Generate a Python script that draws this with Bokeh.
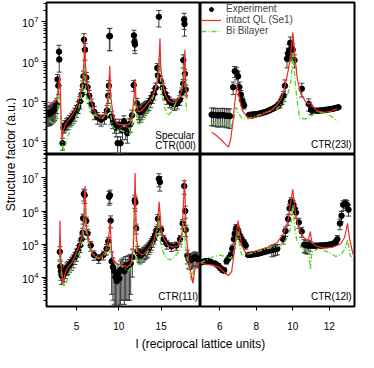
import math
import numpy as np
from bokeh.plotting import figure
from bokeh.models import (ColumnDataSource, Whisker, TeeHead, Range1d, Label, Legend,
                          LegendItem, FixedTicker, Spacer)
from bokeh.layouts import row, column
from bokeh.embed import file_html
from bokeh.resources import INLINE

FONT = "Liberation Sans"
RED = "#ee2c2c"
GREEN = "#5ad82e"
EBAR = "#3c3c3c"

# ---------------- axis ranges / ticks ----------------
left_xlim = (1.45, 19.65)
right_xlim = (4.94, 13.38)
top_ylim = (10 ** 3.67, 10 ** 7.49)
bot_ylim = (10 ** 3.11, 10 ** 7.71)
left_xticks = [5, 10, 15]
right_xticks = [6, 8, 10, 12]

# ---------------- Specular CTR(00l) ----------------
tl_ql_l = [1.6, 2.0, 2.4, 2.7, 2.9, 3.0, 3.1, 3.2, 3.3, 3.45, 3.7, 4.1, 4.5, 4.9, 5.2, 5.5, 5.75, 5.88, 5.95, 6.05,
           6.3, 6.6, 7.0, 7.4, 7.9, 8.3, 8.6, 8.8, 8.92, 9.05, 9.3, 9.5, 9.8, 10.2, 10.6, 11.0, 11.3, 11.6, 11.8, 11.92,
           12.05, 12.3, 12.6, 13.0, 13.5, 14.0, 14.4, 14.65, 14.78, 14.86, 14.95, 15.1, 15.3, 15.6, 16.0, 16.4, 16.8,
           17.2, 17.5, 17.7, 17.8, 17.9, 18.05]
tl_ql_F = [9.5e4, 9.3e4, 9.5e4, 1.3e5, 2.5e5, 4.8e5, 1.5e5, 2.5e4, 1.1e4, 1.9e4, 2.8e4, 3.5e4, 4.6e4, 6.5e4, 1.0e5,
           1.8e5, 3.5e5, 1.2e6, 4.2e6, 8e5, 2.8e5, 1.35e5, 6.6e4, 4.5e4, 3.8e4, 4.2e4, 8e4, 2e5, 7.8e5, 1.3e5, 5e4,
           3.5e4, 2.8e4, 2.6e4, 2.6e4, 2.6e4, 2.8e4, 5e4, 1.4e5, 3.7e5, 9e4, 5.5e4, 5.8e4, 7e4, 9.5e4, 1.4e5, 2.3e5,
           4.5e5, 1.5e6, 3.9e6, 8e5, 3.5e5, 2.1e5, 1.3e5, 1.0e5, 9.5e4, 1.0e5, 1.3e5, 2.2e5, 5e5, 2.0e6, 3e5, 1.2e5]
tl_bi_l = [1.8, 2.3, 2.7, 2.9, 3.0, 3.1, 3.25, 3.45, 3.7, 4.0, 4.4, 4.8, 5.2, 5.5, 5.8, 5.93, 6.08, 6.3, 6.7, 7.1,
           7.6, 8.1, 8.5, 8.8, 8.93, 9.08, 9.3, 9.7, 10.2, 10.8, 11.3, 11.6, 11.82, 11.92, 12.05, 12.3, 12.7, 13.2,
           13.7, 14.2, 14.55, 14.78, 14.92, 15.1, 15.4, 15.8, 16.2, 16.7, 17.2, 17.5, 17.72, 17.85, 18.0]
tl_bi_F = [3.3e4, 2.8e4, 4e4, 1.2e5, 2.3e5, 6e4, 1.2e4, 6e3, 8e3, 1.4e4, 2.2e4, 3.5e4, 6e4, 1.1e5, 3e5, 1.3e6, 2e5,
           9e4, 6e4, 4.8e4, 4e4, 3.8e4, 5.5e4, 1.4e5, 4e5, 4e4, 2.2e4, 2e4, 1.9e4, 1.7e4, 1.5e4, 3e4, 1.2e5, 2e5, 5e4,
           2.7e4, 3e4, 5e4, 8e4, 1.6e5, 3.5e5, 1.2e6, 4e5, 1.5e5, 7e4, 4.5e4, 5.5e4, 9e4, 1.4e5, 2.5e5, 8e5, 2e5, 6e4]
tl_exp_l = [1.55, 1.65, 1.75, 1.85, 1.95, 2.05, 2.15, 2.25, 2.35, 2.45, 2.55, 2.65,
            2.75, 2.85, 2.93, 2.96,
            3.35, 3.45, 3.6, 3.8, 4.0, 4.2, 4.4, 4.6, 4.8, 5.0, 5.2, 5.4, 5.6, 5.75, 5.82,
            5.88, 6.0,
            6.15, 6.3, 6.5, 6.8, 7.1, 7.5, 7.9, 8.3, 8.6, 8.75, 8.82,
            8.88, 8.95,
            9.12, 9.3, 9.49, 9.68, 9.86, 10.05, 10.2, 10.43, 10.6, 10.8, 11.0, 11.2, 11.36, 11.55,
            11.75, 11.78, 11.85, 11.9,
            12.15, 12.3, 12.45, 12.6, 12.75, 12.9, 13.05, 13.2, 13.35, 13.55, 13.75, 13.95, 14.15, 14.35, 14.55, 14.62,
            14.73,
            14.95, 15.2, 15.45, 15.7, 16.0, 16.3, 16.6, 16.9, 17.2, 17.45, 17.6,
            17.62, 17.72, 17.76, 17.8, 17.9]
tl_exp_F = [5.0e4, 4.8e4, 5.2e4, 5.0e4, 5.4e4, 5.3e4, 5.7e4, 6.0e4, 6.2e4, 6.6e4, 7.2e4, 8.5e4,
            3.6e5, 2.5e5, 1.8e6, 1.15e6,
            9e3, 2.2e4, 2.5e4, 2.8e4, 3.0e4, 3.4e4, 3.8e4, 4.3e4, 5.0e4, 6.0e4, 7.5e4, 1.0e5, 1.5e5, 2.5e5, 4.3e5,
            3.6e6, 2.0e6,
            4e5, 2.3e5, 1.4e5, 8.5e4, 5.5e4, 4e4, 3.5e4, 4e4, 6e4, 1.4e5, 2.5e5,
            4.4e6, 4.4e6,
            4.2e4, 3.3e4, 2.6e4, 2.2e4, 9e3, 2.6e4, 9e3, 1.9e4, 3.2e4, 1.9e4, 1.6e4, 2.7e4, 2.7e4, 4.5e4,
            2.6e5, 4.6e6, 3.2e6, 2.7e6,
            9e4, 6e4, 5.5e4, 5.5e4, 6e4, 6.5e4, 7e4, 7.5e4, 8e4, 9e4, 1.05e5, 1.3e5, 1.6e5, 2.2e5, 7e5, 4.5e5,
            1.35e7,
            3.3e5, 2.2e5, 1.6e5, 1.25e5, 1.0e5, 9e4, 8.5e4, 9e4, 1.1e5, 1.7e5, 2.8e5,
            1.1e6, 1.15e7, 8.9e6, 5e5, 2e5]
tl_exp_dF = [2.5e4, 2.4e4, 2.6e4, 2.5e4, 2.7e4, 2.6e4, 2.8e4, 3e4, 3e4, 3.2e4, 3.4e4, 3.5e4,
             1.2e5, 1e5, 8e5, 6e5,
             3e3, 6e3, 8e3, 9e3, 1e4, 1.1e4, 1.3e4, 1.5e4, 1.8e4, 2e4, 2.5e4, 3.5e4, 5e4, 8e4, 1.5e5,
             1.5e6, 9e5,
             1.4e5, 8e4, 5e4, 3e4, 2e4, 1.3e4, 1.1e4, 1.3e4, 2e4, 5e4, 9e4,
             2.5e6, 2.5e6,
             1.5e4, 1.2e4, 1e4, 9e3, 4e3, 1e4, 4e3, 8e3, 1.2e4, 8e3, 7e3, 1e4, 1e4, 1.6e4,
             8e4, 1.6e6, 1.3e6, 1.1e6,
             3e4, 2.5e4, 2.5e4, 2.5e4, 2.5e4, 2.5e4, 2.5e4, 2.5e4, 2.5e4, 3e4, 3.5e4, 4e4, 5e4, 7e4, 2e5, 1.5e5,
             6e6,
             1e5, 7e4, 5e4, 4e4, 3e4, 2.5e4, 2.5e4, 2.5e4, 3e4, 5e4, 8e4,
             4e5, 5e6, 4.5e6, 1.5e5, 6e4]

# ---------------- CTR(23l) ----------------
tr_ql_l = [5.55, 5.81, 6.07, 6.33, 6.47, 6.59, 6.72, 6.82, 6.94, 7.03, 7.12, 7.24, 7.47, 7.73, 8.08, 8.43, 8.78,
           9.13, 9.39, 9.56, 9.74, 9.88, 10.0, 10.05, 10.12, 10.26, 10.43, 10.7, 10.87, 11.0, 11.13, 11.39, 11.74,
           12.09, 12.44]
tr_ql_F = [1.7e4, 1.4e4, 1.1e4, 8.3e3, 7.2e3, 1.1e4, 3.2e4, 9.5e4, 2.5e5, 1.6e5, 9.5e4, 6e4, 4.2e4, 3.7e4, 4.2e4,
           5e4, 6e4, 8e4, 1.25e5, 2.3e5, 5.8e5, 1.4e6, 5.5e6, 3e6, 1.2e6, 3.4e5, 1.6e5, 1e5, 8.7e4, 9.5e4, 7.2e4,
           5.7e4, 5.4e4, 5.7e4, 6.6e4]
tr_bi_l = [5.55, 5.81, 6.07, 6.33, 6.59, 6.77, 6.89, 7.03, 7.21, 7.55, 8.08, 8.6, 9.13, 9.47, 9.74, 9.91, 10.0,
           10.08, 10.17, 10.26, 10.38, 10.61, 10.87, 11.08, 11.31, 11.57, 11.92, 12.18, 12.44]
tr_bi_F = [2.7e4, 3e4, 3e4, 2.7e4, 2.2e4, 3.8e4, 7.2e4, 5e4, 3.8e4, 3.7e4, 4.5e4, 5.5e4, 6.6e4, 9.5e4, 1.6e5,
           3.7e5, 1.7e6, 6.3e5, 2e5, 8.7e4, 3.8e4, 3.7e4, 3.7e4, 4.6e4, 5.5e4, 5.3e4, 4.8e4, 4e4, 3.2e4]
tr_exp_l = [5.55, 5.65, 5.75, 5.85, 5.95, 6.05, 6.15, 6.25, 6.35, 6.45, 6.55,
            6.73, 6.82, 6.91, 7.0, 7.07, 7.15, 7.24, 7.33,
            7.6, 7.7, 7.8, 7.9, 8.0, 8.1, 8.2, 8.3, 8.4, 8.5, 8.6, 8.7, 8.8, 8.9, 9.0, 9.1, 9.2, 9.3,
            9.4, 9.5, 9.57, 9.68, 9.74, 9.79, 9.86, 9.94, 9.99, 10.09, 10.49, 10.87,
            11.0, 11.1, 11.2, 11.3, 11.4, 11.5, 11.6, 11.7, 11.8, 11.9, 12.0, 12.1, 12.2, 12.3, 12.4, 12.5]
tr_exp_F = [4.7e4, 4.6e4, 4.6e4, 4.5e4, 4.5e4, 4.5e4, 4.6e4, 4.5e4, 4.4e4, 4.4e4, 4.3e4,
            2.3e5, 5.8e5, 5.3e5, 4.3e5, 2.3e5, 1.5e5, 1.05e5, 8e4,
            4.6e4, 4.7e4, 4.7e4, 4.8e4, 4.8e4, 4.9e4, 5.0e4, 5.2e4, 5.3e4, 5.5e4, 5.7e4, 6.0e4, 6.3e4, 6.6e4, 7.0e4,
            7.5e4, 8.2e4, 9e4,
            1.1e5, 1.4e5, 2.5e5, 1.2e6, 1.6e6, 1.9e6, 3.0e6, 2.2e6, 2.0e6, 1.1e6, 2.1e5, 8.7e4,
            6.2e4, 6.0e4, 5.9e4, 5.9e4, 5.9e4, 6.0e4, 6.0e4, 6.1e4, 6.2e4, 6.3e4, 6.4e4, 6.5e4, 6.6e4, 6.8e4, 7.0e4,
            7.2e4]
tr_exp_dF = [2.2e4, 2.2e4, 2.2e4, 2.2e4, 2.2e4, 2.2e4, 2.2e4, 2.2e4, 2.2e4, 2.2e4, 2.2e4,
             8e4, 1.8e5, 1.8e5, 1.5e5, 8e4, 4e4, 2.5e4, 1.5e4,
             4e3, 4e3, 4e3, 4e3, 4e3, 4e3, 4e3, 4e3, 4e3, 5e3, 5e3, 5e3, 6e3, 6e3, 8e3, 1e4, 1.5e4, 2e4,
             2.5e4, 4e4, 1e5, 5e5, 6e5, 8e5, 1.2e6, 9e5, 8e5, 4e5, 8e4, 3e4,
             1.5e4, 1e4, 6e3, 5e3, 4e3, 4e3, 4e3, 4e3, 4e3, 4e3, 4e3, 4e3, 4e3, 4e3, 4e3, 4e3]

# ---------------- CTR(11l) ----------------
bl_ql_l = [2.98, 3.05, 3.12, 3.39, 3.68, 4.06, 4.43, 4.81, 5.18, 5.56, 5.82, 6.01, 6.16, 6.49, 6.87, 7.43, 7.99,
           8.48, 8.78, 8.97, 9.12, 9.38, 9.86, 10.43, 10.99, 11.48, 11.74, 11.92, 12.07, 12.3, 12.67, 13.05, 13.61,
           14.17, 14.55, 14.77, 15.0, 15.37, 15.86, 16.42, 16.98, 17.47, 17.77, 17.95, 18.29, 18.55, 18.75, 19.0,
           19.5]
bl_ql_F = [4e4, 5.1e5, 4e4, 6.5e3, 1.4e4, 2.1e4, 2.7e4, 4.2e4, 7.2e4, 1.4e5, 4.2e5, 5.7e6, 3.3e5, 1.1e5, 5.1e4,
           3.7e4, 4.2e4, 6.5e4, 1.4e5, 4.7e5, 7.2e4, 3e4, 2.4e4, 2.3e4, 2e4, 2.7e4, 8.9e4, 1.4e7, 1.7e5, 5.8e4,
           4.7e4, 5.1e4, 8e4, 1.4e5, 3.3e5, 1.9e6, 2.7e5, 1.4e5, 8.9e4, 8e4, 8.9e4, 2.1e5, 8.9e6, 2.1e5, 3e4, 1.2e4,
           6.5e3, 1.8e4, 2.8e4]
bl_bi_l = [3.0, 3.07, 3.2, 3.5, 3.87, 4.25, 4.81, 5.37, 5.75, 5.97, 6.19, 6.49, 7.06, 7.62, 8.18, 8.63, 8.93, 9.12,
           9.49, 10.05, 10.61, 11.18, 11.55, 11.78, 11.92, 12.11, 12.37, 12.86, 13.42, 13.98, 14.47, 14.73, 14.92,
           15.22, 15.6, 16.12, 16.79, 17.35, 17.65, 17.92, 18.29, 18.59, 18.89]
bl_bi_F = [3e4, 1.7e5, 1.2e4, 5.1e3, 8e3, 1.5e4, 3e4, 5.8e4, 1.4e5, 1.26e6, 2.1e5, 7.2e4, 4.7e4, 3.7e4, 4.2e4,
           5.8e4, 1.1e5, 4.7e4, 2.7e4, 2.4e4, 1.9e4, 1.5e4, 3e4, 2.7e5, 3e6, 3.7e4, 2.4e4, 3.3e4, 5.8e4, 8.9e4,
           1.7e5, 8e5, 1.1e5, 5.8e4, 3.7e4, 3.3e4, 4.7e4, 7.2e4, 6.5e5, 7.2e4, 1.5e4, 8e3, 1.9e4]
bl_exp_l = [3.02, 3.08, 3.15, 3.25, 3.35,
            3.55, 3.7, 3.85, 4.0, 4.2, 4.4, 4.6, 4.8, 5.0, 5.2, 5.4, 5.6, 5.72, 5.78,
            5.86, 5.96,
            6.15, 6.31, 6.68, 7.06, 7.62, 8.18, 8.55, 8.75,
            8.85, 8.95, 9.03,
            9.15, 9.3, 9.45, 9.6, 9.75, 9.9, 10.05, 10.2, 10.35, 10.5, 10.65, 10.8, 10.95, 11.1, 11.25, 11.4, 11.6,
            11.88, 11.95, 12.05,
            12.2, 12.35, 12.5, 12.65, 12.8, 12.95, 13.1, 13.25, 13.4, 13.55, 13.7, 13.85, 14.0, 14.15, 14.3, 14.45,
            14.62,
            14.73, 14.85,
            15.0, 15.3, 15.67, 16.23, 16.79, 17.24, 17.54,
            17.73, 17.84, 17.9,
            18.1, 18.25, 18.4, 18.55, 18.7, 18.85, 19.0, 19.15, 19.3, 19.45]
bl_exp_F = [5.8e4, 2.1e4, 1.5e4, 1.1e4, 1.2e4,
            1.3e4, 1.6e4, 1.9e4, 2.1e4, 2.4e4, 2.8e4, 3.3e4, 4.0e4, 5.0e4, 6.5e4, 9e4, 1.4e5, 2.2e5, 6e5,
            3.3e6, 3.0e6,
            5e5, 2.1e5, 9e4, 4.7e4, 3.7e4, 4.7e4, 7.2e4, 1.2e5,
            2.7e6, 3.0e6, 5.1e5,
            3e4, 2e4, 1.5e4, 1.0e4, 7.5e3, 1.3e4, 9e3, 1.6e4, 1.8e4, 2.0e4, 1.5e4, 2.2e4, 1.8e4, 2.3e4, 2.4e4, 2.6e4,
            4e4,
            2.1e6, 1.8e6, 3e5,
            6e4, 5e4, 4.5e4, 4.8e4, 5e4, 5.5e4, 6e4, 6.5e4, 7e4, 8e4, 9e4, 1.05e5, 1.25e5, 1.5e5, 1.9e5, 2.6e5, 5.8e5,
            9.4e6, 7.5e6,
            2.7e5, 1.4e5, 1.0e5, 8.5e4, 9e4, 1.4e5, 4.2e5,
            5.7e6, 1.0e6, 2.7e5,
            4.5e4, 3.5e4, 3.2e4, 3.3e4, 3.5e4, 3.8e4, 4.0e4, 3.8e4, 3.5e4, 3.6e4]
bl_exp_dF = [2.5e4, 9e3, 7e3, 5e3, 6e3,
             6e3, 7e3, 8e3, 9e3, 1e4, 1.2e4, 1.4e4, 1.6e4, 2e4, 2.5e4, 3.5e4, 5e4, 8e4, 2e5,
             1.3e6, 1.3e6,
             1.5e5, 7e4, 3e4, 1.5e4, 1.1e4, 1.4e4, 2.5e4, 4e4,
             1.2e6, 1.3e6, 2e5,
             2.7e4, 1.8e4, 1.35e4, 9e3, 6.8e3, 1.17e4, 8e3, 1.45e4, 1.6e4, 1.8e4, 1.35e4, 2e4, 1.6e4, 2.1e4, 2.2e4,
             2.3e4, 3e4,
             9e5, 8e5, 1e5,
             2.5e4, 2.2e4, 2e4, 2e4, 2.2e4, 2.4e4, 2.6e4, 2.8e4, 3e4, 3.2e4, 3.5e4, 4e4, 4.5e4, 5e4, 6e4, 8e4, 2e5,
             4e6, 3.5e6,
             8e4, 4e4, 3e4, 2.5e4, 2.5e4, 4e4, 1.3e5,
             2.5e6, 4e5, 1e5,
             2e4, 1.7e4, 1.5e4, 1.5e4, 1.6e4, 1.7e4, 1.8e4, 1.7e4, 1.6e4, 1.6e4]

# ---------------- CTR(12l) ----------------
br_ql_l = [4.94, 5.29, 5.64, 6.0, 6.25, 6.47, 6.65, 6.77, 6.89, 7.0, 7.08, 7.2, 7.38, 7.55, 8.08, 8.6, 9.13, 9.47,
           9.74, 9.88, 10.0, 10.07, 10.17, 10.35, 10.61, 10.84, 10.96, 11.04, 11.31, 11.74, 12.18, 12.62, 12.83,
           13.0, 13.09, 13.23, 13.31]
br_ql_F = [2.7e4, 2.4e4, 2.3e4, 1.9e4, 1.4e4, 1.1e4, 1.5e4, 4.7e4, 1.7e5, 5.1e5, 2.1e5, 9e4, 5.8e4, 5.1e4, 6.5e4,
           8e4, 1.1e5, 1.95e5, 5.1e5, 1.9e6, 4.5e6, 1.9e6, 6.5e5, 2.7e5, 1.55e5, 1.25e5, 2.4e5, 1.1e5, 8.5e4, 7.5e4,
           8e4, 1e5, 1.55e5, 4.2e5, 1.7e5, 7.2e4, 4.7e4]
br_bi_l = [4.94, 5.29, 5.64, 6.0, 6.33, 6.6, 6.77, 6.89, 7.0, 7.08, 7.2, 7.47, 7.9, 8.43, 8.95, 9.39, 9.65, 9.86,
           10.0, 10.08, 10.2, 10.43, 10.7, 10.87, 10.96, 11.04, 11.39, 11.92, 12.35, 12.62, 12.88, 13.0, 13.14, 13.28]
br_bi_F = [2.7e4, 3.3e4, 4.2e4, 4.6e4, 4.2e4, 3.7e4, 5.8e4, 1.25e5, 2.4e5, 9e4, 4.7e4, 4.9e4, 5.5e4, 6.9e4, 8e4,
           9e4, 1.4e5, 2.7e5, 1.55e6, 4.2e5, 1.4e5, 8e4, 7.2e4, 5.8e4, 1.7e4, 5.8e4, 7.2e4, 5.8e4, 4.2e4, 4.7e4,
           7.2e4, 1.4e5, 4.7e4, 3e4]
br_exp_l = [4.98, 5.08, 5.18, 5.28, 5.38, 5.5, 5.72, 5.82, 5.92, 6.02, 6.12, 6.24,
            6.37, 6.47, 6.6, 6.68, 6.77, 6.82, 6.89, 6.98, 7.07, 7.15, 7.24, 7.33, 7.42,
            7.55, 7.65, 7.75, 7.85, 7.95, 8.05, 8.15, 8.25, 8.35, 8.45, 8.55, 8.65, 8.75, 8.85, 8.95, 9.05, 9.15,
            9.47, 9.6, 9.74, 9.82, 9.9, 9.97, 10.02, 10.09, 10.17, 10.33, 10.49,
            10.62, 10.7, 10.78, 10.86, 10.95, 11.05, 11.15, 11.25, 11.35, 11.45, 11.55, 11.65, 11.75, 11.85, 11.95,
            12.05, 12.15, 12.25, 12.35,
            12.44, 12.58, 12.67, 12.76, 12.88, 12.97, 13.05]
br_exp_F = [2.8e4, 2.9e4, 3.0e4, 3.0e4, 3.1e4, 2.9e4, 2.6e4, 2.4e4, 2.2e4, 1.9e4, 1.7e4, 1.6e4,
            3e4, 3.7e4, 4.7e4, 7.2e4, 1.4e5, 2.1e5, 3e5, 2.7e5, 1.9e5, 1.55e5, 1.25e5, 1.1e5, 9e4,
            4.7e4, 4.7e4, 4.8e4, 4.9e4, 5.0e4, 5.1e4, 5.2e4, 5.4e4, 5.6e4, 5.8e4, 6.0e4, 6.2e4, 6.4e4, 6.6e4, 6.8e4,
            7.0e4, 7.2e4,
            1.4e5, 2.5e5, 5.7e5, 1.2e6, 1.9e6, 1.7e6, 1.55e6, 1.2e6, 9e5, 4.5e5, 2.4e5,
            9.5e4, 9.2e4, 9e4, 9e4, 9e4, 8.9e4, 8.9e4, 8.9e4, 8.9e4, 9e4, 9e4, 9.1e4, 9.2e4, 9.3e4, 9.5e4, 9.7e4,
            1.0e5, 1.05e5, 1.15e5,
            1.4e5, 4.2e5, 7.2e5, 1.55e6, 1.7e6, 1.55e6, 1.1e6]
br_exp_dF = [3e3, 3e3, 3e3, 3e3, 3e3, 3e3, 3e3, 3e3, 3e3, 3e3, 3e3, 3e3,
             5e3, 6e3, 1e4, 2e4, 4e4, 6e4, 9e4, 8e4, 5e4, 4e4, 3e4, 2.5e4, 2e4,
             4e3, 4e3, 4e3, 4e3, 4e3, 4e3, 4e3, 4e3, 4e3, 4e3, 4e3, 5e3, 5e3, 2.5e4, 2.5e4, 2.5e4, 2.5e4,
             4e4, 8e4, 2e5, 4e5, 6e5, 6e5, 5e5, 4e5, 3e5, 1.5e5, 8e4,
             4e4, 4e4, 4e4, 4e4, 3e4, 8e3, 5e3, 5e3, 5e3, 5e3, 5e3, 5e3, 5e3, 5e3, 5e3, 5e3,
             6e3, 1e4, 2e4,
             4e4, 1.5e5, 2.5e5, 5e5, 5e5, 5e5, 4e5]

FW, FH = 154, 152   # frame sizes
LB, BB = 30, 29     # left / bottom borders
XLAB_H = 16


def make_panel(xr, yr, left_axis, bottom_axis, xticks):
    p = figure(frame_width=FW, frame_height=FH, x_range=Range1d(*xr), y_range=Range1d(*yr),
               y_axis_type="log",
               x_axis_location="below" if bottom_axis else None,
               y_axis_location="left" if left_axis else None,
               toolbar_location=None, output_backend="svg",
               min_border_left=LB if left_axis else 0,
               min_border_right=0 if left_axis else 2,
               min_border_top=0 if bottom_axis else 2,
               min_border_bottom=BB if bottom_axis else 0)
    p.grid.visible = False
    p.outline_line_color = "black"
    p.outline_line_width = 2
    p.border_fill_color = "white"
    if left_axis:
        ax = p.yaxis[0]
        ax.axis_line_color = None
        ax.major_tick_in = 0
        ax.major_tick_out = 5
        ax.minor_tick_in = 0
        ax.minor_tick_out = 3
        ax.major_tick_line_color = "black"
        ax.minor_tick_line_color = "black"
        ax.major_label_text_font = FONT
        ax.major_label_text_font_size = "11px"
        ax.major_label_text_color = "black"
        ax.major_label_standoff = 3
    if bottom_axis:
        ax = p.xaxis[0]
        ax.ticker = FixedTicker(ticks=xticks, minor_ticks=[])
        ax.axis_line_color = None
        ax.major_tick_in = 0
        ax.major_tick_out = 4
        ax.major_tick_line_color = "black"
        ax.major_label_text_font = FONT
        ax.major_label_text_font_size = "10px"
        ax.major_label_text_color = "black"
        ax.major_label_standoff = 11
    return p


def draw(p, yr, exp_l, exp_F, exp_dF, ql_l, ql_F, bi_l, bi_F):
    F = np.array(exp_F, dtype=float)
    dF = np.array(exp_dF, dtype=float)
    src = ColumnDataSource(dict(l=exp_l, F=F, lo=np.maximum(F - dF, yr[0] * 1.05), hi=F + dF))
    w = Whisker(source=src, base="l", upper="hi", lower="lo", line_color=EBAR, line_width=1,
                upper_head=TeeHead(size=5, line_color=EBAR, line_width=1),
                lower_head=TeeHead(size=5, line_color=EBAR, line_width=1))
    p.add_layout(w)
    p.scatter("l", "F", source=src, size=5.5, color="black")
    g = p.line(bi_l, bi_F, line_color=GREEN, line_width=1.4, line_dash="5 2 1 2")
    r = p.line(ql_l, ql_F, line_color=RED, line_width=1.2)
    return r, g


def tag(p, x, y, text, align="left"):
    p.add_layout(Label(x=x, y=y, text=text, text_font=FONT, text_font_size="10px", text_color="black",
                       text_align=align, text_baseline="alphabetic"))


tl = make_panel(left_xlim, top_ylim, True, False, left_xticks)
tr = make_panel(right_xlim, top_ylim, False, False, right_xticks)
bl = make_panel(left_xlim, bot_ylim, True, True, left_xticks)
br = make_panel(right_xlim, bot_ylim, False, True, right_xticks)

draw(tl, top_ylim, tl_exp_l, tl_exp_F, tl_exp_dF, tl_ql_l, tl_ql_F, tl_bi_l, tl_bi_F)
r_tr, g_tr = draw(tr, top_ylim, tr_exp_l, tr_exp_F, tr_exp_dF, tr_ql_l, tr_ql_F, tr_bi_l, tr_bi_F)
draw(bl, bot_ylim, bl_exp_l, bl_exp_F, bl_exp_dF, bl_ql_l, bl_ql_F, bl_bi_l, bl_bi_F)
draw(br, bot_ylim, br_exp_l, br_exp_F, br_exp_dF, br_ql_l, br_ql_F, br_bi_l, br_bi_F)

tag(tl, 14.3, 1.4e4, "Specular")
tag(tl, 14.3, 7.8e3, "CTR(00l)")
tag(tr, 13.22, 8.3e3, "CTR(23l)", "right")
tag(bl, 19.35, 2.6e3, "CTR(11l)", "right")
tag(br, 13.22, 2.6e3, "CTR(12l)", "right")

# legend key for the experiment: one marker placed outside the visible range
exp_key = tr.scatter(x=[0.0], y=[1.0], size=9, color="black")
legend = Legend(items=[LegendItem(label="Experiment", renderers=[exp_key]),
                       LegendItem(label="intact QL (Se1)", renderers=[r_tr]),
                       LegendItem(label="Bi Bilayer", renderers=[g_tr])],
                location="top_left", label_text_font=FONT, label_text_font_size="10px",
                glyph_width=20, glyph_height=10, label_height=10, label_standoff=5,
                spacing=0, padding=1, margin=1, background_fill_alpha=0, border_line_color=None)
tr.add_layout(legend)

grid_h = (FH + 2) + (FH + BB)
ylab = figure(width=16, height=grid_h, x_range=Range1d(0, 16), y_range=Range1d(0, grid_h),
              x_axis_location=None, y_axis_location=None, toolbar_location=None, output_backend="svg",
              min_border=0, outline_line_color=None)
ylab.grid.visible = False
ylab.add_layout(Label(x=10, y=grid_h - (FH + 2), text="Structure factor (a.u.)", angle=math.pi / 2,
                      text_align="center", text_baseline="middle", text_font=FONT,
                      text_font_size="12px", text_color="black"))

xw = FW + FW + 2
xlab = figure(width=xw, height=XLAB_H, x_range=Range1d(0, xw), y_range=Range1d(0, XLAB_H),
              x_axis_location=None, y_axis_location=None, toolbar_location=None, output_backend="svg",
              min_border=0, outline_line_color=None)
xlab.grid.visible = False
xlab.add_layout(Label(x=FW, y=XLAB_H / 2, text="l (reciprocal lattice units)", text_align="center",
                      text_baseline="middle", text_font=FONT, text_font_size="12px", text_color="black"))

layout = column(row(ylab, column(row(tl, tr), row(bl, br))),
                row(Spacer(width=16 + LB, height=XLAB_H), xlab))

open("out.html", "w").write(file_html(layout, INLINE))
